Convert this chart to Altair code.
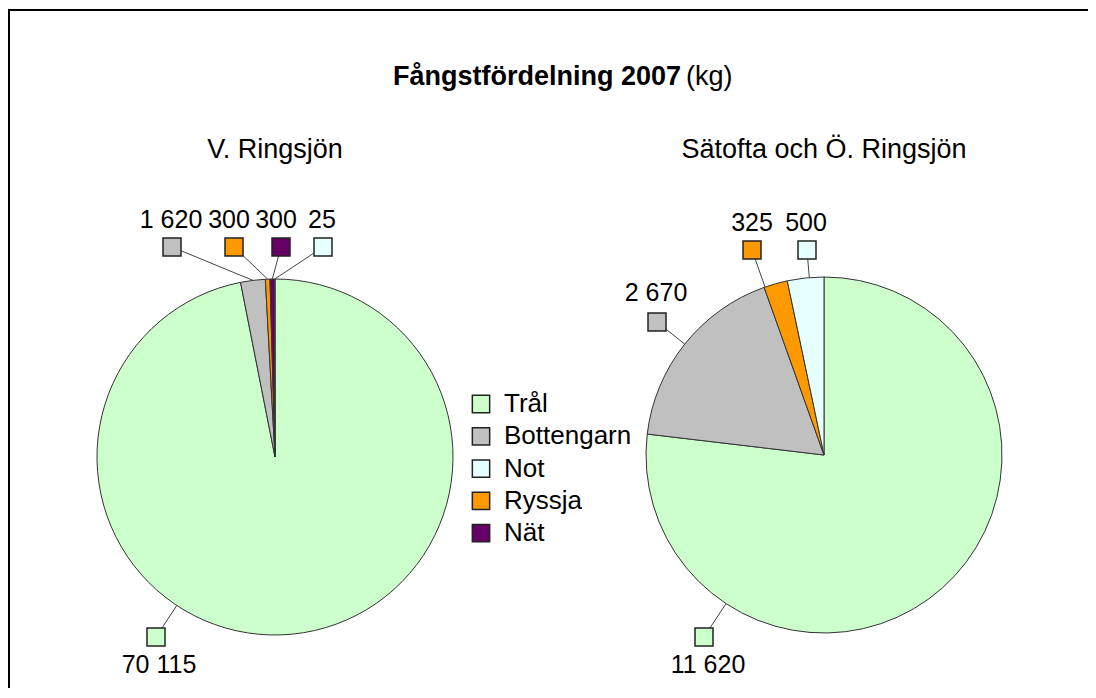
import math
import altair as alt
import pandas as pd

# ---------------- data ----------------
categories = ["Trål", "Bottengarn", "Not", "Ryssja", "Nät"]          # legend order
colors = ["#CCFFCC", "#C0C0C0", "#E6FFFF", "#FF9900", "#660066"]
stack_order = ["Trål", "Bottengarn", "Ryssja", "Nät", "Not"]         # clockwise from 12 o'clock
pie_names = ["V. Ringsjön", "Sätofta och Ö. Ringsjön"]
v_ringsjon = [70115, 1620, 25, 300, 300]
satofta = [11620, 2670, 500, 325, None]
title_bold = "Fångstfördelning 2007"
title_unit = "(kg)"

# ---------------- layout (page pixel coords) ----------------
W, H = 1080, 680
OFF = 8
FONT = "Liberation Sans"
RADIUS = 178
pie_centers = {"V. Ringsjön": (275, 457), "Sätofta och Ö. Ringsjön": (824, 455)}
# label box centre (bx, by) and text centre (tx, ty)
label_pos = {
    "V. Ringsjön": {
        "Trål": (156, 637, 159, 665),
        "Bottengarn": (172, 247, 171, 220),
        "Ryssja": (234, 247, 229, 220),
        "Nät": (281, 247, 276, 220),
        "Not": (323, 247, 322, 220),
    },
    "Sätofta och Ö. Ringsjön": {
        "Trål": (704, 637, 708, 665),
        "Bottengarn": (657, 322, 656, 293),
        "Ryssja": (752, 250, 752, 223),
        "Not": (807, 250, 806, 223),
    },
}
legend_x, legend_y0, legend_step = 481, 404, 32.3

# ---------------- build tables ----------------
series = {"V. Ringsjön": v_ringsjon, "Sätofta och Ö. Ringsjön": satofta}
rows = []
for pie in pie_names:
    vals = dict(zip(categories, series[pie]))
    items = [(c, vals[c]) for c in stack_order if vals[c] is not None]
    total = sum(v for _, v in items)
    cx, cy = pie_centers[pie]
    cum = 0
    for i, (c, v) in enumerate(items):
        a0 = cum / total * 360
        cum += v
        a1 = cum / total * 360
        bx, by, tx, ty = label_pos[pie][c]
        d = math.degrees(math.atan2(bx - cx, -(by - cy))) % 360
        ang = d if a0 <= d <= a1 else (a0 + a1) / 2
        ex = cx + RADIUS * math.sin(math.radians(ang))
        ey = cy - RADIUS * math.cos(math.radians(ang))
        rows.append(dict(pie=pie, category=c, value=v, ord=i,
                         label=f"{v:,}".replace(",", " "),
                         bx=bx - OFF, by=by - OFF, tx=tx - OFF, ty=ty - OFF,
                         ex=ex - OFF, ey=ey - OFF))
df = pd.DataFrame(rows)
df_legend = pd.DataFrame({"category": categories,
                          "ly": [legend_y0 - OFF + i * legend_step for i in range(len(categories))]})

xs = alt.Scale(domain=[0, W], range=[0, W], nice=False, zero=False)
ys = alt.Scale(domain=[0, H], range=[0, H], nice=False, zero=False)
cscale = alt.Scale(domain=categories, range=colors)

layers = []
# pies
for pie in pie_names:
    cx, cy = pie_centers[pie]
    layers.append(
        alt.Chart(df[df.pie == pie]).mark_arc(outerRadius=RADIUS, stroke="#333333", strokeWidth=1)
        .encode(theta=alt.Theta("value:Q", stack=True),
                fill=alt.Fill("category:N", scale=cscale, legend=None),
                order=alt.Order("ord:Q"),
                x=alt.value(cx - OFF), y=alt.value(cy - OFF))
    )

base = alt.Chart(df)
leaders = base.mark_rule(color="#444444", strokeWidth=1).encode(
    x=alt.X("ex:Q", scale=xs, axis=None), y=alt.Y("ey:Q", scale=ys, axis=None),
    x2="bx:Q", y2="by:Q")
boxes = base.mark_square(size=324, stroke="#222222", strokeWidth=1.5, opacity=1).encode(
    x=alt.X("bx:Q", scale=xs, axis=None), y=alt.Y("by:Q", scale=ys, axis=None),
    fill=alt.Fill("category:N", scale=cscale, legend=None))
texts = base.mark_text(font=FONT, fontSize=25, align="center", baseline="middle", color="black").encode(
    x=alt.X("tx:Q", scale=xs, axis=None), y=alt.Y("ty:Q", scale=ys, axis=None), text="label:N")

lg = alt.Chart(df_legend)
leg_sq = lg.mark_square(size=300, stroke="#222222", strokeWidth=1.5, opacity=1).encode(
    x=alt.value(legend_x - OFF), y=alt.Y("ly:Q", scale=ys, axis=None),
    fill=alt.Fill("category:N", scale=cscale, legend=None))
leg_tx = lg.mark_text(font=FONT, fontSize=26, align="left", baseline="middle", color="black").encode(
    x=alt.value(legend_x + 23 - OFF), y=alt.Y("ly:Q", scale=ys, axis=None), text="category:N")

one = alt.Chart(pd.DataFrame({"d": [0]}))
t_bold = one.mark_text(font=FONT, fontSize=27, fontWeight="bold", align="right",
                       baseline="alphabetic", text=title_bold).encode(
    x=alt.value(681 - OFF), y=alt.value(85 - OFF))
t_unit = one.mark_text(font=FONT, fontSize=27, align="left",
                       baseline="alphabetic", text=title_unit).encode(
    x=alt.value(686 - OFF), y=alt.value(85 - OFF))
subs = []
for pie in pie_names:
    cx, _ = pie_centers[pie]
    subs.append(one.mark_text(font=FONT, fontSize=27, align="center", baseline="middle", text=pie)
                .encode(x=alt.value(cx - OFF), y=alt.value(150 - OFF)))

frame_top = one.mark_rule(color="black", strokeWidth=2).encode(
    x=alt.value(0), x2=alt.value(W + OFF), y=alt.value(10 - OFF))
frame_left = one.mark_rule(color="black", strokeWidth=2).encode(
    x=alt.value(1), y=alt.value(10 - OFF - 1), y2=alt.value(H + OFF))

chart = alt.layer(frame_top, frame_left, *layers, leaders, boxes, texts, leg_sq, leg_tx,
                  t_bold, t_unit, *subs).resolve_scale(theta="independent").properties(
    width=W, height=H, padding=0, autosize=alt.AutoSizeParams(type="none")
).configure_view(stroke=None)

chart.save("out.html", embed_options={"renderer": "svg", "actions": False})
